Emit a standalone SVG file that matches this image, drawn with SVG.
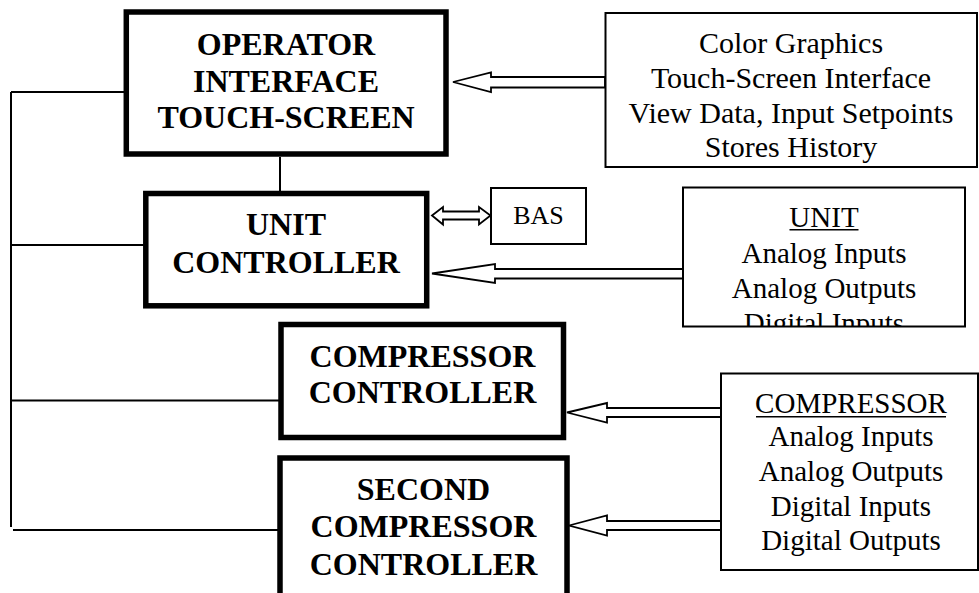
<svg xmlns="http://www.w3.org/2000/svg" width="979" height="593" viewBox="0 0 979 593">
  <defs>
    <style>
      .thick { fill: #fff; stroke: #000; stroke-width: 5.5; }
      .thin { fill: #fff; stroke: #000; stroke-width: 2; }
      .conn { fill: none; stroke: #000; stroke-width: 2; }
      .arrow { fill: #fff; stroke: #000; stroke-width: 1.8; stroke-linejoin: miter; }
      .bold { font-family: "Liberation Serif", "Times New Roman", serif; font-weight: bold; font-size: 32px; text-anchor: middle; fill: #000; }
      .reg { font-family: "Liberation Serif", "Times New Roman", serif; font-size: 29px; text-anchor: middle; fill: #000; }
      .big { font-size: 30px; }
      .ul { stroke: #000; stroke-width: 1.5; }
    </style>
    <clipPath id="unitClip">
      <rect x="684" y="188" width="280" height="138"/>
    </clipPath>
  </defs>
  <rect width="979" height="593" fill="#fff"/>

  <g id="connectors">
    <path class="conn" d="M11,92 V527"/>
    <path class="conn" d="M11,92 H124"/>
    <path class="conn" d="M11,245 H144"/>
    <path class="conn" d="M11,400.5 H279"/>
    <path class="conn" d="M13,530 H282"/>
    <path class="conn" d="M280,157 V192"/>
    <polygon class="arrow" points="453,82 491,72.5 491,77 605,77 605,87.5 491,87.5 491,92"/>
    <polygon class="arrow" points="432,273.5 495,264 495,269 683,269 683,278.5 495,278.5 495,283"/>
    <polygon class="arrow" points="567,412.5 607,403 607,408 721,408 721,417 607,417 607,422.5"/>
    <polygon class="arrow" points="569,525.5 607,515.5 607,521 721,521 721,530 607,530 607,535.5"/>
    <polygon class="arrow" points="432,215.5 443,207 443,211.5 479,211.5 479,207 490.5,215.5 479,224.5 479,219.5 443,219.5 443,224.5"/>
  </g>

  <g id="operator-interface">
    <rect class="thick" x="126.3" y="12" width="319.7" height="142"/>
    <text class="bold" x="286" y="55">OPERATOR</text>
    <text class="bold" x="286" y="91.7">INTERFACE</text>
    <text class="bold" x="286" y="128.3">TOUCH-SCREEN</text>
  </g>

  <g id="unit-controller">
    <rect class="thick" x="145.8" y="193.5" width="280.9" height="112.3"/>
    <text class="bold" x="286" y="235">UNIT</text>
    <text class="bold" x="286" y="273.3">CONTROLLER</text>
  </g>

  <g id="compressor-controller">
    <rect class="thick" x="281" y="324.5" width="282.5" height="113"/>
    <text class="bold" x="422.5" y="366.7">COMPRESSOR</text>
    <text class="bold" x="422.5" y="403.3">CONTROLLER</text>
  </g>

  <g id="second-compressor-controller">
    <rect class="thick" x="280" y="458" width="287" height="150"/>
    <text class="bold" x="423.5" y="500">SECOND</text>
    <text class="bold" x="423.5" y="537.3">COMPRESSOR</text>
    <text class="bold" x="423.5" y="575">CONTROLLER</text>
  </g>

  <g id="operator-features">
    <rect class="thin" x="605.5" y="13" width="371.5" height="154"/>
    <text class="reg big" x="791" y="53.3">Color Graphics</text>
    <text class="reg big" x="791" y="88.3">Touch-Screen Interface</text>
    <text class="reg big" x="791" y="123">View Data, Input Setpoints</text>
    <text class="reg big" x="791" y="157">Stores History</text>
  </g>

  <g id="bas">
    <rect class="thin" x="491" y="188" width="95" height="56"/>
    <text class="reg" x="538.5" y="224" style="font-size:26px">BAS</text>
  </g>

  <g id="unit-io">
    <rect class="thin" x="683" y="187.5" width="282" height="139"/>
    <g clip-path="url(#unitClip)">
      <text class="reg" x="824" y="226.7">UNIT</text>
      <line class="ul" x1="789.5" y1="229.8" x2="858.5" y2="229.8"/>
      <text class="reg" x="824" y="263">Analog Inputs</text>
      <text class="reg" x="824" y="298">Analog Outputs</text>
      <text class="reg" x="824" y="333">Digital Inputs</text>
    </g>
  </g>

  <g id="compressor-io">
    <rect class="thin" x="721" y="373.5" width="257" height="196.5"/>
    <text class="reg" x="851" y="412.7">COMPRESSOR</text>
    <line class="ul" x1="756" y1="416.7" x2="946" y2="416.7"/>
    <text class="reg" x="851" y="446">Analog Inputs</text>
    <text class="reg" x="851" y="481">Analog Outputs</text>
    <text class="reg" x="851" y="516">Digital Inputs</text>
    <text class="reg" x="851" y="550">Digital Outputs</text>
  </g>
</svg>
